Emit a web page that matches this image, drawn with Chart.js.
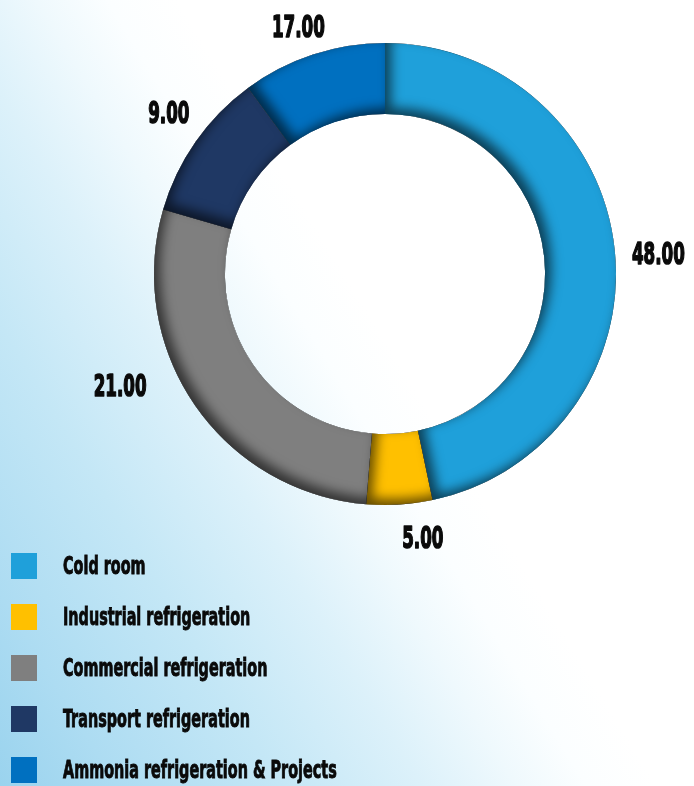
<!DOCTYPE html>
<html>
<head>
<meta charset="utf-8">
<script src="https://cdn.jsdelivr.net/npm/chart.js@4.4.1/dist/chart.umd.min.js"></script>
<style>
html,body{margin:0;padding:0;width:694px;height:786px;overflow:hidden;}
body{
  position:relative;
  background:linear-gradient(58.6deg,#9ad3ee 0%,#addcf2 10%,#c4e7f6 24%,#dcf1fa 36%,#eff9fd 44%,#fbfeff 50%,#ffffff 56%,#ffffff 100%);
  font-family:"DejaVu Sans Condensed","DejaVu Sans",sans-serif;
}
#c{position:absolute;left:0;top:0;}
#legend{position:absolute;left:0;top:0;width:694px;height:786px;pointer-events:none;}
.item{position:absolute;left:11px;height:26px;width:600px;}
.sw{position:absolute;left:0;top:0;width:26px;height:26px;}
.tx{position:absolute;left:52px;top:0;line-height:26px;white-space:nowrap;font-weight:bold;font-size:25px;color:#0a0a0a;-webkit-text-stroke:0.9px #0a0a0a;transform:scaleX(0.64);transform-origin:0 50%;}
</style>
</head>
<body>
<canvas id="c" width="694" height="786"></canvas>
<div id="legend"></div>
<script>
// ---- data ----
const categories = ['Cold room','Industrial refrigeration','Commercial refrigeration','Transport refrigeration','Ammonia refrigeration & Projects'];
// share of the ring each slice covers
const sliceShares = [46.7, 4.6, 28.2, 10.4, 10.1];
// numbers printed beside the slices
const printedValues = [48, 5, 21, 9, 17];

// ---- styles ----
const sliceColors = ['#1fa0da','#ffc000','#7f7f7f','#1f3864','#0070c0'];

function sectorPath(ctx, arc) {
  const {x, y, startAngle, endAngle, innerRadius, outerRadius} = arc;
  ctx.moveTo(x + outerRadius * Math.cos(startAngle), y + outerRadius * Math.sin(startAngle));
  ctx.arc(x, y, outerRadius, startAngle, endAngle);
  ctx.lineTo(x + innerRadius * Math.cos(endAngle), y + innerRadius * Math.sin(endAngle));
  ctx.arc(x, y, innerRadius, endAngle, startAngle, true);
  ctx.closePath();
}

const innerShadow = {
  id: 'innerShadow',
  afterDatasetsDraw(chart, args, opts) {
    const ctx = chart.ctx;
    chart.getDatasetMeta(0).data.forEach(arc => {
      ctx.save();
      ctx.beginPath();
      sectorPath(ctx, arc);
      ctx.clip();
      ctx.beginPath();
      ctx.rect(-2000, -2000, 5000, 5000);
      sectorPath(ctx, arc);
      ctx.shadowColor = opts.color;
      ctx.shadowBlur = opts.blur;
      ctx.shadowOffsetX = opts.dx;
      ctx.shadowOffsetY = opts.dy;
      ctx.fillStyle = '#000';
      ctx.fill('evenodd');
      ctx.restore();
    });
  }
};

const valueLabelsPlugin = {
  id: 'valueLabels',
  afterDatasetsDraw(chart, args, opts) {
    const ctx = chart.ctx;
    const meta = chart.getDatasetMeta(0);
    ctx.save();
    ctx.font = 'bold ' + opts.size + 'px ' + opts.family;
    ctx.fillStyle = opts.color;
    ctx.strokeStyle = opts.color;
    ctx.lineWidth = opts.stroke;
    ctx.lineJoin = 'round';
    ctx.textAlign = 'center';
    ctx.textBaseline = 'alphabetic';
    meta.data.forEach((arc, i) => {
      const nud = opts.nudge[i] || [0, 0];
      const mid = (arc.startAngle + arc.endAngle) / 2 + nud[0] * Math.PI / 180;
      const txt = printedValues[i].toFixed(2);
      const w = ctx.measureText(txt).width * opts.scaleX;
      const h = opts.capH;
      const c = Math.cos(mid), s = Math.sin(mid);
      const d = arc.outerRadius + opts.gap + (w / 2) * Math.abs(c) + (h / 2) * Math.abs(s) + nud[1];
      const px = arc.x + c * d, py = arc.y + s * d;
      ctx.save();
      ctx.translate(px, py + h / 2);
      ctx.scale(opts.scaleX, 1);
      ctx.fillText(txt, 0, 0);
      ctx.strokeText(txt, 0, 0);
      ctx.restore();
    });
    ctx.restore();
  }
};

new Chart(document.getElementById('c'), {
  type: 'doughnut',
  data: {
    labels: categories,
    datasets: [{
      data: sliceShares,
      backgroundColor: sliceColors,
      borderWidth: 0,
      hoverOffset: 0,
      offset: 0
    }]
  },
  options: {
    responsive: false,
    animation: false,
    events: [],
    cutout: '69.3%',
    layout: { padding: { left: 154, right: 78, top: 43, bottom: 281 } },
    plugins: {
      legend: { display: false },
      tooltip: { enabled: false },
      innerShadow: { color: 'rgba(0,0,0,0.6)', blur: 12, dx: 6, dy: -6 },
      valueLabels: {
        size: 31, family: '"DejaVu Sans Condensed","DejaVu Sans",sans-serif',
        color: '#0a0a0a', scaleX: 0.6, stroke: 1.6, capH: 23, gap: 16,
        nudge: [[1.4, 0], [-4.6, 4], [12, 11], [2, 0], [-1, -3]]
      }
    }
  },
  plugins: [innerShadow, valueLabelsPlugin]
});

// HTML legend built from the same arrays
const legend = document.getElementById('legend');
categories.forEach((name, i) => {
  const item = document.createElement('div');
  item.className = 'item';
  item.style.top = (553 + i * 51) + 'px';
  const sw = document.createElement('div');
  sw.className = 'sw';
  sw.style.background = sliceColors[i];
  const tx = document.createElement('div');
  tx.className = 'tx';
  tx.textContent = name;
  item.appendChild(sw);
  item.appendChild(tx);
  legend.appendChild(item);
});
</script>
</body>
</html>
